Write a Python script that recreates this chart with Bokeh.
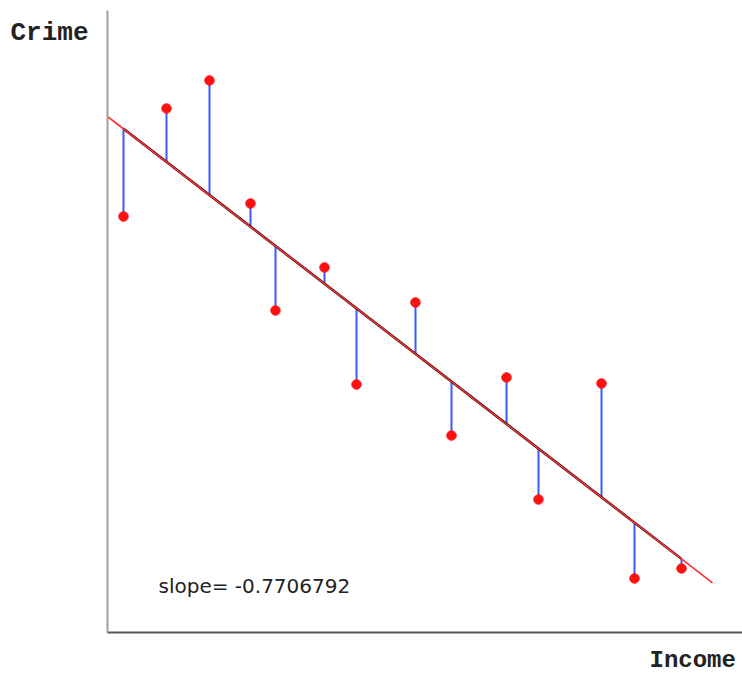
from bokeh.plotting import figure
from bokeh.models import Range1d, LinearAxis, FixedTicker, Label, ColumnDataSource
from bokeh.embed import file_html
from bokeh.resources import INLINE

# Observations: income (x) and crime (y)
income = [16, 59, 102, 143, 168, 217, 249, 308, 344, 399, 431, 494, 527, 574]
crime = [416, 524, 552, 429, 322, 365, 248, 330, 197, 255, 133, 249, 54, 64]

# Fitted regression line
slope = -0.7706792
intercept = 516.0
line_x = [0, 605]

fitted = [intercept + slope * xv for xv in income]

p = figure(width=742, height=673, output_backend="svg", toolbar_location=None,
           x_range=Range1d(-107, 635), y_range=Range1d(-41, 632),
           x_axis_type=None, y_axis_type=None,
           min_border=0)
p.outline_line_color = None
p.grid.visible = False
p.background_fill_color = "white"
p.border_fill_color = "white"

# axes drawn at the origin, limited to the plotting region
for loc, color, bounds in (("left", "#a0a0a0", (0, 622)),
                           ("below", "#555555", (0, 635))):
    ax = LinearAxis(ticker=FixedTicker(ticks=[]), fixed_location=0, bounds=bounds)
    ax.axis_line_color = color
    ax.axis_line_width = 2
    ax.major_tick_line_color = None
    ax.minor_tick_line_color = None
    ax.major_tick_out = 0
    ax.major_tick_in = 0
    ax.major_label_standoff = 0
    ax.major_label_text_font_size = "0px"
    p.add_layout(ax, loc)

src = ColumnDataSource(dict(x=income, y=crime, fit=fitted))

# residuals
p.segment(x0="x", y0="y", x1="x", y1="fit", source=src,
          line_color="#3a5cff", line_width=2)

# fitted values over the observed range
p.line([income[0], income[-1]],
       [intercept + slope * income[0], intercept + slope * income[-1]],
       line_color="black", line_width=2.5)

# regression line
p.line(line_x, [intercept + slope * xv for xv in line_x],
       line_color="#ff3030", line_width=1.6)

p.scatter(x="x", y="y", source=src, size=9.5, marker="circle",
          fill_color="#ff1010", line_color="#ff1010")

p.add_layout(Label(x=51, y=47, text=f"slope= {slope}",
                   text_font="DejaVu Sans", text_font_size="20px",
                   text_color="#222222", text_baseline="alphabetic"))
p.add_layout(Label(x=-97, y=600, text="Crime",
                   text_font="Liberation Mono", text_font_style="bold",
                   text_font_size="26px", text_color="#222222",
                   text_baseline="alphabetic"))
p.add_layout(Label(x=542, y=-28, text="Income",
                   text_font="Liberation Mono", text_font_style="bold",
                   text_font_size="24px", text_color="#222222",
                   text_baseline="alphabetic"))

open("out.html", "w").write(file_html(p, INLINE))
